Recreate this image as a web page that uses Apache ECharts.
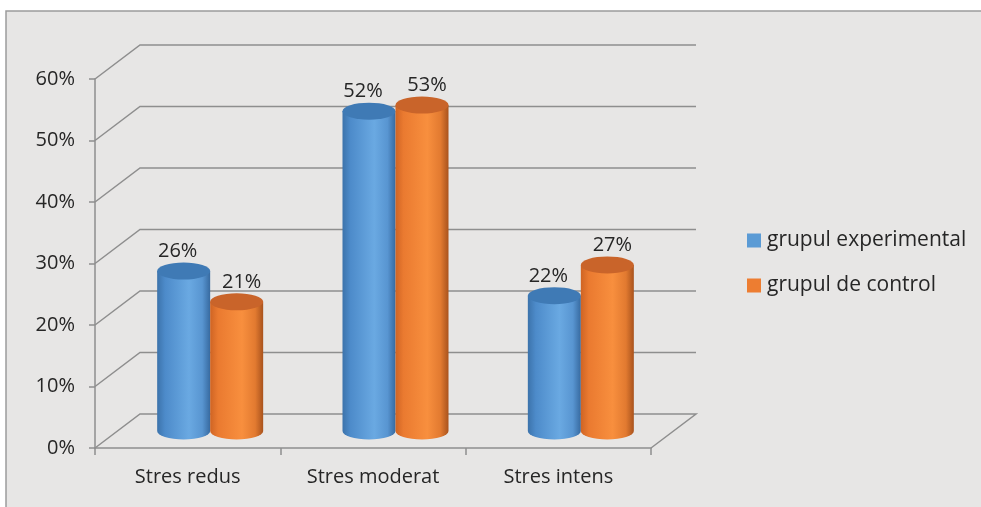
<!DOCTYPE html>
<html>
<head>
<meta charset="utf-8">
<script src="https://cdn.jsdelivr.net/npm/echarts@6/dist/echarts.min.js"></script>
<style>
  html, body { margin: 0; padding: 0; background: #ffffff; }
  #chart { width: 981px; height: 507px; }
</style>
</head>
<body>
<div id="chart"></div>
<script>
// Data
const categories = ['Stres redus', 'Stres moderat', 'Stres intens'];
const seriesNames = ['grupul experimental', 'grupul de control'];
const experimental = [0.26, 0.52, 0.22];
const control = [0.21, 0.53, 0.27];
const yTicks = [0, 0.1, 0.2, 0.3, 0.4, 0.5, 0.6];

// Pseudo-3D styling constants
const DEPTH_X = 45;      // horizontal shift of the back wall
const DEPTH_Y = -34;     // vertical shift of the back wall
const BAR_W = 53;        // cylinder diameter
const RY = 8.5;          // ellipse half-height of the cylinder caps
const FONT = '"Open Sans", Lato, sans-serif';
const FONT_SIZE = 20;
const TEXT = '#262626';
const GRID_COLOR = '#8e8e8e';

const palettes = [
  { flat: '#5b9bd5', top: '#3f7ab5',
    stops: [[0, '#3c73ab'], [0.15, '#4d8bca'], [0.6, '#6aa9e2'], [0.85, '#5895d1'], [1, '#376aa0']] },
  { flat: '#ed7d31', top: '#c9642a',
    stops: [[0, '#cf6424'], [0.15, '#ea7a30'], [0.6, '#f88f3e'], [0.85, '#e27a30'], [1, '#a9531d']] }
];

function wallItem(params, api) {
  const cs = params.coordSys;
  const v = api.value(1);
  const y = api.coord([0, v])[1];
  const x0 = cs.x, x1 = cs.x + cs.width;
  const pts = [[x0, y], [x0 + DEPTH_X, y + DEPTH_Y], [x1 + DEPTH_X, y + DEPTH_Y]];
  if (v === 0) pts.push([x1, y]);
  return {
    type: 'polyline',
    shape: { points: pts },
    style: { stroke: GRID_COLOR, lineWidth: 1.5, fill: null }
  };
}

function makeCylinder(seriesIdx) {
  const pal = palettes[seriesIdx];
  return function (params, api) {
    const idx = api.value(0);
    const val = api.value(1);
    const base = api.coord([idx, 0]);
    const top = api.coord([idx, val]);
    const cx = base[0] + DEPTH_X / 2 + (seriesIdx === 0 ? -BAR_W / 2 : BAR_W / 2);
    const yBot = base[1] + DEPTH_Y / 2;
    const yTop = top[1] + DEPTH_Y / 2;
    const rx = BAR_W / 2;
    const body = 'M' + (cx - rx) + ',' + yTop +
      ' L' + (cx - rx) + ',' + yBot +
      ' A' + rx + ',' + RY + ' 0 0 0 ' + (cx + rx) + ',' + yBot +
      ' L' + (cx + rx) + ',' + yTop + ' Z';
    const cap = 'M' + (cx - rx) + ',' + yTop +
      ' A' + rx + ',' + RY + ' 0 1 1 ' + (cx + rx) + ',' + yTop +
      ' A' + rx + ',' + RY + ' 0 1 1 ' + (cx - rx) + ',' + yTop + ' Z';
    const label = Math.round(val * 100) + '%';
    return {
      type: 'group',
      children: [
        {
          type: 'path',
          shape: { pathData: body },
          style: {
            fill: {
              type: 'linear', x: 0, y: 0, x2: 1, y2: 0,
              colorStops: pal.stops.map(s => ({ offset: s[0], color: s[1] }))
            }
          }
        },
        {
          type: 'path',
          shape: { pathData: cap },
          style: { fill: pal.top }
        },
        {
          type: 'text',
          style: {
            text: label,
            x: cx + (seriesIdx === 0 ? -6 : 5),
            y: yTop - RY - 1,
            align: 'center',
            verticalAlign: 'bottom',
            font: FONT_SIZE + 'px ' + FONT,
            fill: TEXT
          }
        }
      ]
    };
  };
}

const chart = echarts.init(document.getElementById('chart'), null, { renderer: 'canvas' });

chart.setOption({
  animation: false,
  backgroundColor: '#ffffff',
  graphic: [{
    type: 'rect',
    z: -100,
    silent: true,
    shape: { x: 6, y: 11, width: 1000, height: 520 },
    style: { fill: '#e7e6e5', stroke: '#9c9c9c', lineWidth: 1.5 }
  }],
  grid: { left: 95, right: 330, top: 79, bottom: 59, containLabel: false },
  legend: {
    data: seriesNames,
    orient: 'vertical',
    left: 747,
    top: 229,
    icon: 'rect',
    itemWidth: 14,
    itemHeight: 14,
    itemGap: 22,
    padding: 0,
    textStyle: { fontFamily: FONT, fontSize: 21, lineHeight: 23, color: TEXT, padding: [0, 0, 0, 1] }
  },
  xAxis: {
    type: 'category',
    data: categories,
    boundaryGap: true,
    axisLine: { lineStyle: { color: GRID_COLOR, width: 1.5 } },
    axisTick: { show: true, length: 7, lineStyle: { color: GRID_COLOR, width: 1.5 } },
    axisLabel: { fontFamily: FONT, fontSize: FONT_SIZE, color: TEXT, margin: 19 },
    splitLine: { show: false }
  },
  yAxis: {
    type: 'value',
    min: 0,
    max: 0.6,
    interval: 0.1,
    axisLine: { show: true, lineStyle: { color: GRID_COLOR, width: 1.5 } },
    axisTick: { show: true, length: 6, lineStyle: { color: GRID_COLOR, width: 1.5 } },
    axisLabel: {
      fontFamily: FONT, fontSize: FONT_SIZE, color: TEXT, margin: 20,
      formatter: v => Math.round(v * 100) + '%'
    },
    splitLine: { show: false }
  },
  series: [
    {
      type: 'custom',
      name: 'walls',
      silent: true,
      z: 1,
      renderItem: wallItem,
      encode: { x: 0, y: 1 },
      data: yTicks.map(v => [0, v])
    },
    {
      type: 'custom',
      name: seriesNames[0],
      z: 3,
      itemStyle: { color: palettes[0].flat },
      renderItem: makeCylinder(0),
      encode: { x: 0, y: 1 },
      data: experimental.map((v, i) => [i, v])
    },
    {
      type: 'custom',
      name: seriesNames[1],
      z: 4,
      itemStyle: { color: palettes[1].flat },
      renderItem: makeCylinder(1),
      encode: { x: 0, y: 1 },
      data: control.map((v, i) => [i, v])
    }
  ]
});
</script>
</body>
</html>
